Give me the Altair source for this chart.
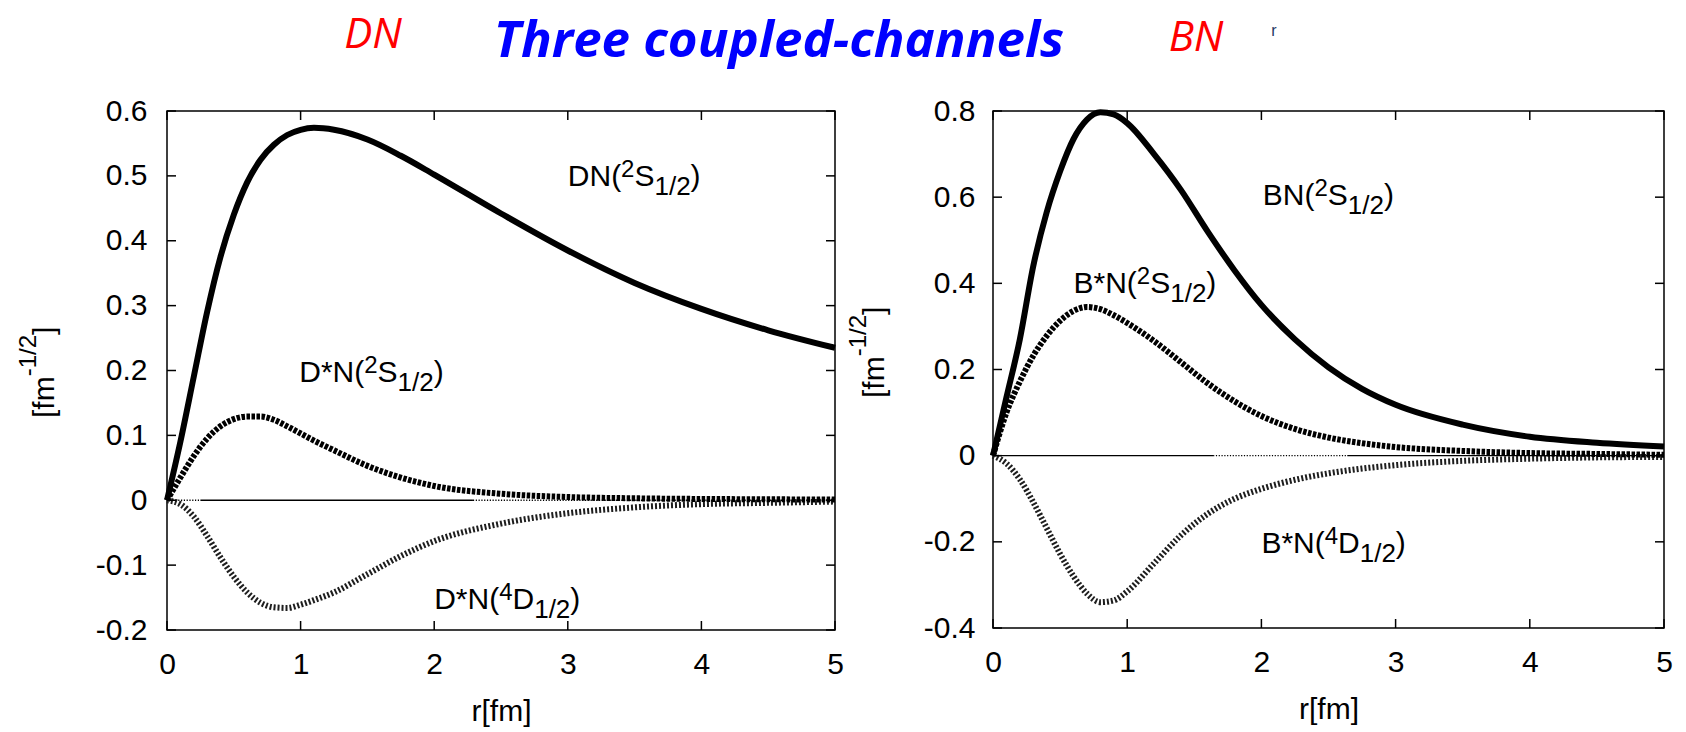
import altair as alt
import pandas as pd

FONT = "Liberation Sans"

# ---------------- data ----------------
R_D = [0, 0.1, 0.2, 0.3, 0.4, 0.5, 0.6, 0.7, 0.8, 0.9, 1.0, 1.1, 1.25, 1.5, 1.75, 2.0, 2.5, 3.0, 3.5, 4.0, 4.5, 5.0]
DN_2S = [0, 0.09, 0.19, 0.29, 0.375, 0.44, 0.49, 0.525, 0.548, 0.563, 0.571, 0.574, 0.571, 0.556, 0.531, 0.502,
         0.442, 0.385, 0.335, 0.295, 0.262, 0.235]
DSN_2S = [0, 0.035, 0.068, 0.095, 0.114, 0.125, 0.129, 0.129, 0.124, 0.114, 0.103, 0.092, 0.077, 0.053, 0.035,
          0.022, 0.010, 0.005, 0.003, 0.002, 0.0015, 0.001]
DSN_4D = [0, -0.006, -0.025, -0.055, -0.088, -0.118, -0.142, -0.158, -0.165, -0.166, -0.161, -0.154, -0.142,
          -0.114, -0.086, -0.063, -0.036, -0.020, -0.011, -0.006, -0.004, -0.002]

R_B = [0, 0.1, 0.2, 0.3, 0.4, 0.5, 0.6, 0.7, 0.8, 0.9, 1.0, 1.2, 1.4, 1.6, 1.8, 2.0, 2.25, 2.5, 2.75, 3.0, 3.5,
       4.0, 4.5, 5.0]
BN_2S = [0, 0.135, 0.27, 0.44, 0.565, 0.66, 0.735, 0.78, 0.797, 0.792, 0.772, 0.70, 0.617, 0.52, 0.43, 0.35,
         0.27, 0.205, 0.155, 0.118, 0.072, 0.044, 0.030, 0.021]
BSN_2S = [0, 0.10, 0.172, 0.232, 0.278, 0.313, 0.336, 0.345, 0.34, 0.326, 0.308, 0.266, 0.217, 0.168, 0.126,
          0.092, 0.062, 0.042, 0.029, 0.020, 0.011, 0.006, 0.004, 0.002]
BSN_4D = [0, -0.018, -0.055, -0.108, -0.168, -0.228, -0.28, -0.32, -0.34, -0.336, -0.315, -0.25, -0.185,
          -0.135, -0.10, -0.077, -0.056, -0.041, -0.030, -0.022, -0.012, -0.007, -0.004, -0.003]

X_TICKS = [0, 1, 2, 3, 4, 5]
Y_TICKS_D = [-0.2, -0.1, 0, 0.1, 0.2, 0.3, 0.4, 0.5, 0.6]
Y_TICKS_B = [-0.4, -0.2, 0, 0.2, 0.4, 0.6, 0.8]

# zero line pieces: start, end, style
ZERO_D_A = [0, 0.25, 2.29]
ZERO_D_B = [0.25, 2.29, 5]
ZERO_D_S = ["dot", "solid", "dot"]
ZERO_B_A = [0, 0.03, 1.64, 2.64]
ZERO_B_B = [0.03, 1.64, 2.64, 5]
ZERO_B_S = ["dot", "solid", "dot", "solid"]

# curve labels: prefix, superscript, letter, subscript, suffix, anchor r, anchor value
LAB_D_PRE = ["DN(", "D*N(", "D*N("]
LAB_D_SUP = ["2", "2", "4"]
LAB_D_MID = ["S", "S", "D"]
LAB_D_SUB = ["1/2", "1/2", "1/2"]
LAB_D_END = [")", ")", ")"]
LAB_D_R = [3.0, 0.99, 2.0]
LAB_D_V = [0.484, 0.183, -0.167]

LAB_B_PRE = ["BN(", "B*N(", "B*N("]
LAB_B_SUP = ["2", "2", "4"]
LAB_B_MID = ["S", "S", "D"]
LAB_B_SUB = ["1/2", "1/2", "1/2"]
LAB_B_END = [")", ")", ")"]
LAB_B_R = [2.01, 0.6, 2.0]
LAB_B_V = [0.582, 0.377, -0.226]

YTITLE_PARTS = ["[fm", "-1/2", "]"]
XTITLE = "r[fm]"
TITLES = ["DN", "Three coupled-channels", "BN", "r"]

# ---------------- helpers ----------------
ARIAL = {"D": 0.722, "N": 0.722, "B": 0.667, "(": 0.333, ")": 0.333, "*": 0.389, "S": 0.667,
         "1": 0.556, "2": 0.556, "4": 0.556, "/": 0.278, "[": 0.278, "]": 0.278, "f": 0.278,
         "m": 0.833, "-": 0.333}


def tw(s, size):
    return sum(ARIAL.get(c, 0.556) for c in s) * size


MAIN_FS = 30
SUP_FS = 24
SUB_FS = 26


def panel(r, main, dash2, dot4, ydom, yticks, pre, sup, mid, sub, end, lr, lv,
          za, zb, zs, width, height, ypad, yt_x, yt_y):
    xs = alt.Scale(domain=[0, 5], nice=False, zero=False)
    ys = alt.Scale(domain=ydom, nice=False, zero=False)
    xaxis = alt.Axis(values=X_TICKS, ticks=False, domain=False, grid=False, labelFlush=False,
                     labelOverlap=False, labelFont=FONT, labelFontSize=MAIN_FS, labelColor="black",
                     labelPadding=19, title=XTITLE, titleFont=FONT, titleFontSize=MAIN_FS,
                     titleFontWeight="normal", titleColor="black", titlePadding=17)
    yaxis = alt.Axis(values=yticks, ticks=False, domain=False, grid=False, labelFlush=False,
                     labelOverlap=False, labelFont=FONT, labelFontSize=MAIN_FS, labelColor="black",
                     labelPadding=ypad, labelExpr="'' + datum.value", title="")

    def X(f):
        return alt.X(f, scale=xs, axis=xaxis)

    def Y(f):
        return alt.Y(f, scale=ys, axis=yaxis)

    layers = []

    zdf = pd.DataFrame({"a": za, "b": zb, "s": zs})
    layers.append(alt.Chart(zdf).transform_filter("datum.s == 'solid'")
                  .mark_rule(color="black", strokeWidth=1.3)
                  .encode(x=X("a:Q"), x2="b:Q", y=alt.YDatum(0, scale=ys, axis=yaxis)))
    layers.append(alt.Chart(zdf).transform_filter("datum.s == 'dot'")
                  .mark_rule(color="black", strokeWidth=1.3, strokeDash=[1.2, 1.6])
                  .encode(x=X("a:Q"), x2="b:Q", y=alt.YDatum(0, scale=ys, axis=yaxis)))

    cdf = pd.DataFrame({"r": r, "main": main, "dash2": dash2, "dot4": dot4})
    layers.append(alt.Chart(cdf).mark_line(color="#1e1e1e", strokeWidth=6, strokeDash=[2, 2],
                                           interpolate="monotone", strokeCap="butt")
                  .encode(x=X("r:Q"), y=Y("dot4:Q")))
    layers.append(alt.Chart(cdf).mark_line(color="black", strokeWidth=6, strokeDash=[3.5, 1.5],
                                           interpolate="monotone", strokeCap="butt")
                  .encode(x=X("r:Q"), y=Y("dash2:Q")))
    layers.append(alt.Chart(cdf).mark_line(color="black", strokeWidth=6, interpolate="monotone")
                  .encode(x=X("r:Q"), y=Y("main:Q")))

    # inward ticks on all four sides
    tx = pd.DataFrame({"t": X_TICKS})
    ty = pd.DataFrame({"t": yticks})
    layers.append(alt.Chart(tx).mark_rule(color="black", strokeWidth=1.5)
                  .encode(x=X("t:Q"), y=alt.value(height - 9), y2=alt.value(height)))
    layers.append(alt.Chart(tx).mark_rule(color="black", strokeWidth=1.5)
                  .encode(x=X("t:Q"), y=alt.value(0), y2=alt.value(9)))
    layers.append(alt.Chart(ty).mark_rule(color="black", strokeWidth=1.5)
                  .encode(y=Y("t:Q"), x=alt.value(0), x2=alt.value(9)))
    layers.append(alt.Chart(ty).mark_rule(color="black", strokeWidth=1.5)
                  .encode(y=Y("t:Q"), x=alt.value(width - 9), x2=alt.value(width)))

    # curve labels with super/subscripts
    for i in range(len(pre)):
        parts = [(pre[i], MAIN_FS, 0), (sup[i], SUP_FS, -9), (mid[i], MAIN_FS, 0),
                 (sub[i], SUB_FS, 9), (end[i], MAIN_FS, 0)]
        dx = 0.0
        for txt, fs, dy in parts:
            ldf = pd.DataFrame({"r": [lr[i]], "v": [lv[i]], "t": [txt]})
            layers.append(alt.Chart(ldf).mark_text(align="left", baseline="alphabetic", dx=dx, dy=dy,
                                                   fontSize=fs, font=FONT, color="black")
                          .encode(x=X("r:Q"), y=Y("v:Q"), text="t:N"))
            dx += tw(txt, fs)

    # rotated y title [fm^-1/2]
    dx = 0.0
    for txt, fs, dy in [(YTITLE_PARTS[0], MAIN_FS, 0), (YTITLE_PARTS[1], SUP_FS, -18),
                        (YTITLE_PARTS[2], MAIN_FS, 0)]:
        tdf = pd.DataFrame({"t": [txt]})
        layers.append(alt.Chart(tdf).mark_text(angle=270, align="left", baseline="alphabetic", dx=dx, dy=dy,
                                               fontSize=fs, font=FONT, color="black")
                      .encode(x=alt.value(yt_x), y=alt.value(yt_y), text="t:N"))
        dx += tw(txt, fs)

    return alt.layer(*layers).properties(
        width=width, height=height,
        view=alt.ViewBackground(stroke="black", strokeWidth=1.5))


left = panel(R_D, DN_2S, DSN_2S, DSN_4D, [-0.2, 0.6], Y_TICKS_D,
             LAB_D_PRE, LAB_D_SUP, LAB_D_MID, LAB_D_SUB, LAB_D_END, LAB_D_R, LAB_D_V,
             ZERO_D_A, ZERO_D_B, ZERO_D_S, 668, 519, 20, -113, 307)
right = panel(R_B, BN_2S, BSN_2S, BSN_4D, [-0.4, 0.8], Y_TICKS_B,
              LAB_B_PRE, LAB_B_SUP, LAB_B_MID, LAB_B_SUB, LAB_B_END, LAB_B_R, LAB_B_V,
              ZERO_B_A, ZERO_B_B, ZERO_B_S, 671, 517, 18, -109, 287)

# ---------------- top titles ----------------
top_layers = []
title_styles = [
    dict(font="Open Sans", fontStyle="italic", fontWeight="normal", fontSize=42, color="#FF0000", x=206, y=34),
    dict(font="Open Sans", fontStyle="italic", fontWeight="bold", fontSize=51, color="#0000FF", x=612, y=41),
    dict(font="Open Sans", fontStyle="italic", fontWeight="normal", fontSize=42, color="#FF0000", x=1029, y=37),
    dict(font=FONT, fontStyle="normal", fontWeight="normal", fontSize=16, color="#1F3864", x=1107, y=30),
]
for txt, st in zip(TITLES, title_styles):
    tdf = pd.DataFrame({"t": [txt]})
    top_layers.append(alt.Chart(tdf).mark_text(align="center", baseline="middle", font=st["font"],
                                               fontStyle=st["fontStyle"], fontWeight=st["fontWeight"],
                                               fontSize=st["fontSize"], color=st["color"])
                      .encode(x=alt.value(st["x"]), y=alt.value(st["y"]), text="t:N"))
top = alt.layer(*top_layers).properties(width=1300, height=80,
                                        view=alt.ViewBackground(stroke="transparent"))

chart = alt.vconcat(top, alt.hconcat(left, right, spacing=-2), spacing=13).properties(
    padding={"left": 16, "top": 0, "right": 0, "bottom": 0},
    background="white",
)

chart.save("out.html", embed_options={"renderer": "svg", "actions": False})
